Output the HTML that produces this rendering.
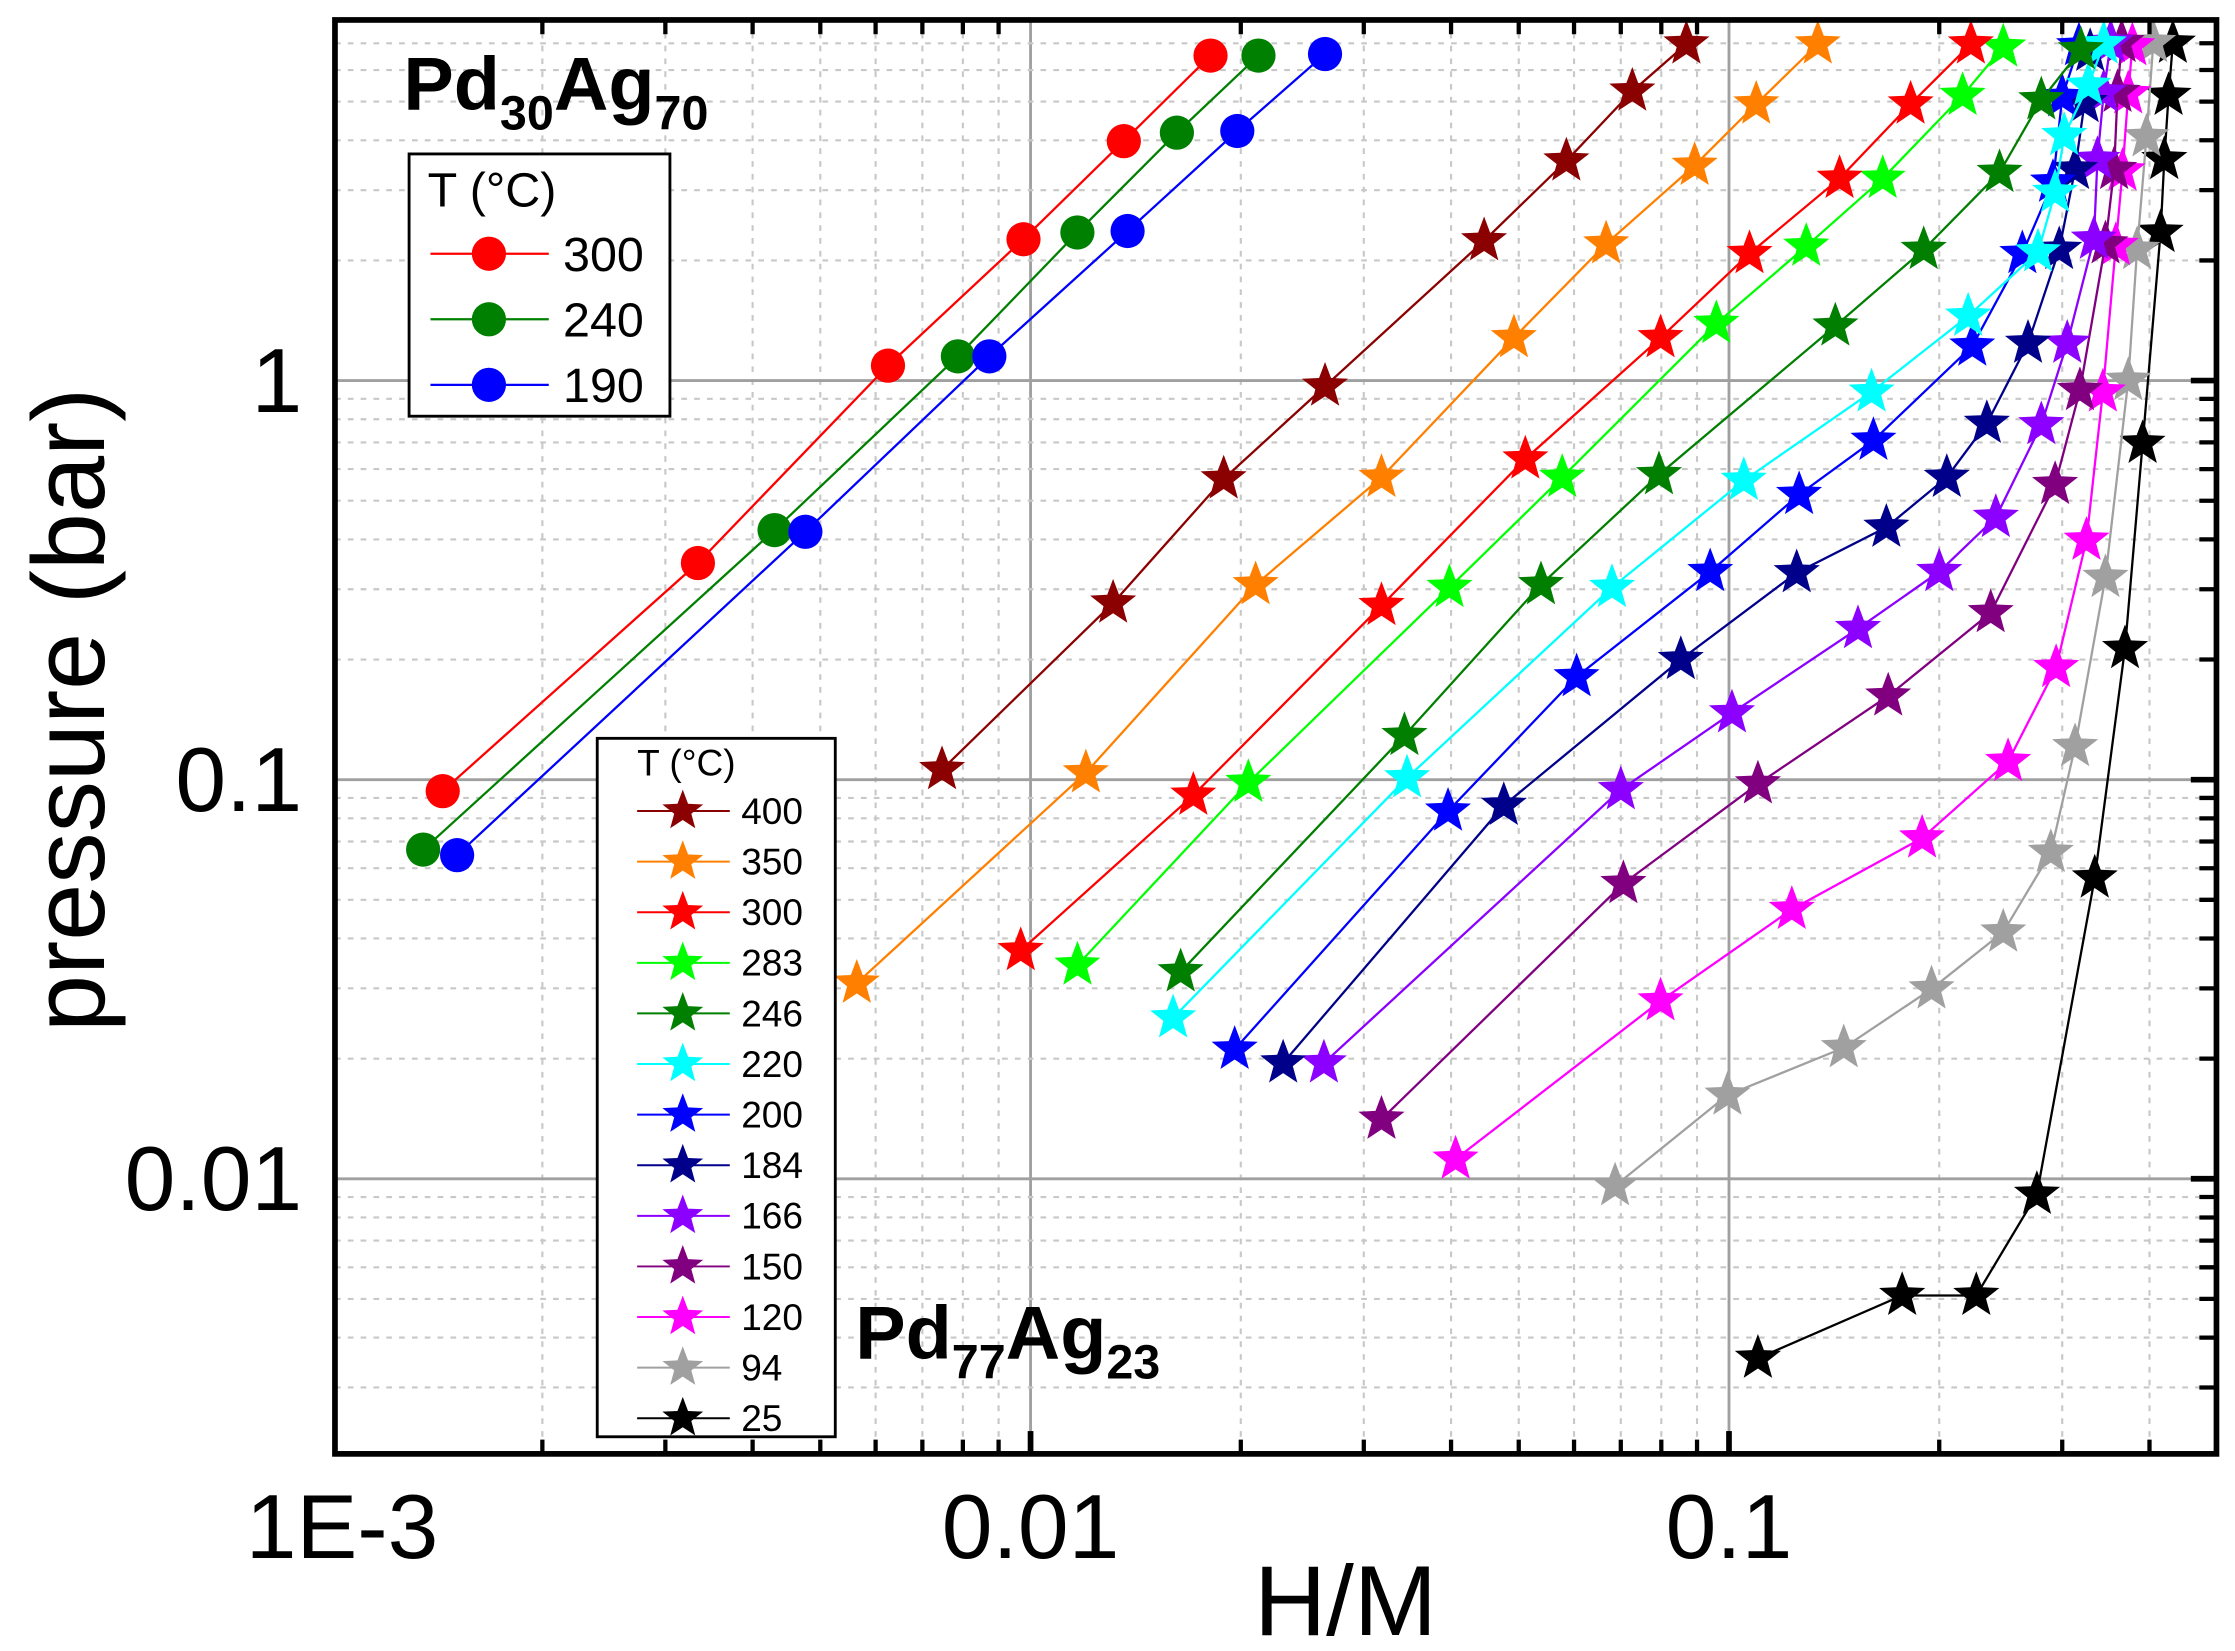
<!DOCTYPE html>
<html><head><meta charset="utf-8"><style>
html,body{margin:0;padding:0;background:#fff;}
svg{display:block;font-family:"Liberation Sans",sans-serif;}
</style></head><body>
<svg id="chart" width="2235" height="1651" viewBox="0 0 1568 1158.3" preserveAspectRatio="none" xmlns="http://www.w3.org/2000/svg">
<rect x="0" y="0" width="1568" height="1159" fill="#fff"/>
<g id="grid"></g>
<g id="series"></g>
<rect x="235" y="14" width="1320" height="1006" fill="none" stroke="#000" stroke-width="4"/>
<g id="ticks"></g>
<text x="0" y="0" transform="translate(73,498) rotate(-90)" text-anchor="middle" font-size="72">pressure (bar)</text>
<text x="944" y="1147" text-anchor="middle" font-size="70">H/M</text>
<text x="283" y="77" font-size="53" font-weight="bold">Pd<tspan font-size="34" dy="14">30</tspan><tspan dy="-14">Ag</tspan><tspan font-size="34" dy="14">70</tspan></text>
<text x="600" y="953" font-size="53" font-weight="bold">Pd<tspan font-size="34" dy="14">77</tspan><tspan dy="-14">Ag</tspan><tspan font-size="34" dy="14">23</tspan></text>
<g id="legend1">
<rect x="287" y="108" width="183" height="184" fill="#fff" stroke="#000" stroke-width="2"/>
<text x="300" y="145" font-size="34">T (°C)</text>
</g>
<g id="legend2">
<rect x="419" y="518" width="167" height="490" fill="#fff" stroke="#000" stroke-width="2"/>
<text x="447" y="544" font-size="26">T (°C)</text>
</g>
</svg>
<script>
// ---- data ----
const circleTemps = ["300","240","190"];
const circleColors = ["#FF0000","#008000","#0000FF"];
const hmC300 = [0.00144,0.00334,0.00625,0.00977,0.0136,0.0181];
const pC300 = [0.0936,0.349,1.09,2.26,3.98,6.52];
const hmC240 = [0.00135,0.0043,0.00787,0.01167,0.0162,0.0212];
const pC240 = [0.0668,0.422,1.15,2.35,4.18,6.52];
const hmC190 = [0.00151,0.00476,0.00873,0.01377,0.01977,0.0264];
const pC190 = [0.0647,0.418,1.15,2.37,4.22,6.58];

const starTemps = ["400","350","300","283","246","220","200","184","166","150","120","94","25"];
const starColors = ["#8B0000","#FF8000","#FF0000","#00FF00","#007F00","#00FFFF","#0000FF","#00008B","#8B00FF","#800080","#FF00FF","#A0A0A0","#000000"];
const hm400 = [0.00747,0.01313,0.0189,0.0264,0.0446,0.0585,0.0727,0.0869];
const p400 = [0.106,0.277,0.567,0.968,2.24,3.55,5.31,6.97];
const hm350 = [0.00564,0.012,0.021,0.0318,0.0492,0.0667,0.0893,0.1094,0.134];
const p350 = [0.0309,0.104,0.308,0.572,1.28,2.2,3.46,4.93,6.97];
const hm300 = [0.00968,0.0171,0.0318,0.0511,0.0798,0.107,0.144,0.182,0.222];
const p300 = [0.0373,0.0914,0.273,0.636,1.28,2.08,3.21,4.93,6.97];
const hm283 = [0.01167,0.0205,0.0398,0.0577,0.0959,0.129,0.166,0.216,0.247];
const p283 = [0.0343,0.0984,0.303,0.572,1.39,2.17,3.21,5.18,6.85];
const hm246 = [0.0164,0.0343,0.0538,0.0794,0.142,0.19,0.244,0.28,0.319];
const p246 = [0.033,0.129,0.308,0.581,1.37,2.13,3.32,5.05,6.74];
const hm220 = [0.016,0.0346,0.068,0.105,0.16,0.22,0.277,0.293,0.302,0.327,0.344];
const p220 = [0.0253,0.101,0.303,0.562,0.936,1.45,2.1,2.96,4.11,5.49,6.97];
const hm200 = [0.0196,0.0396,0.0605,0.094,0.126,0.161,0.223,0.263,0.291,0.3,0.317];
const p200 = [0.0211,0.0834,0.181,0.332,0.518,0.708,1.22,2.08,3.14,5.14,6.9];
const hm184 = [0.023,0.0476,0.0853,0.125,0.168,0.205,0.234,0.268,0.297,0.313,0.323,0.329];
const p184 = [0.0195,0.0862,0.2,0.33,0.429,0.572,0.781,1.24,2.13,3.38,4.97,6.68];
const hm166 = [0.0263,0.07,0.101,0.153,0.2,0.241,0.28,0.305,0.333,0.337,0.344,0.352];
const p166 = [0.0195,0.0944,0.147,0.239,0.332,0.454,0.775,1.24,2.26,3.58,5.27,7.03];
const hm150 = [0.0318,0.0706,0.11,0.169,0.237,0.293,0.318,0.346,0.356,0.36,0.365];
const p150 = [0.0141,0.0549,0.0976,0.162,0.262,0.549,0.944,2.2,3.38,5.27,7.03];
const hm120 = [0.0406,0.0798,0.123,0.189,0.251,0.294,0.325,0.343,0.358,0.366,0.373,0.378];
const p120 = [0.0112,0.0279,0.0473,0.0714,0.111,0.191,0.398,0.936,2.18,3.35,5.23,6.9];
const hm94 = [0.0687,0.0995,0.146,0.195,0.247,0.289,0.313,0.346,0.373,0.384,0.396,0.405];
const p94 = [0.0096,0.0162,0.0213,0.0299,0.0415,0.0657,0.121,0.321,1.0,2.13,4.08,7.03];
const hm25 = [0.11,0.177,0.226,0.276,0.334,0.369,0.391,0.415,0.42,0.426,0.432];
const p25 = [0.00355,0.0051,0.0051,0.00914,0.0567,0.213,0.696,2.35,3.58,5.18,7.0];

const xTickLabels = ["1E-3","0.01","0.1"];
const xTickValues = [0.001,0.01,0.1];
const yTickLabels = ["1","0.1","0.01"];
const yTickValues = [1,0.1,0.01];

// ---- axes ----
const X0=233, XD=490, Y0=267, YD=280;
function sx(v){return X0+(Math.log10(v)+3)*XD;}
function sy(v){return Y0-Math.log10(v)*YD;}
const NS="http://www.w3.org/2000/svg";
function mk(tag,attrs,parent){const e=document.createElementNS(NS,tag);for(const k in attrs)e.setAttribute(k,attrs[k]);parent.appendChild(e);return e;}
function starPts(cx,cy,R){const r=R*0.42;let s=[];for(let i=0;i<10;i++){const a=-Math.PI/2+i*Math.PI/5;const rr=i%2?r:R;s.push((cx+rr*Math.cos(a)).toFixed(1)+","+(cy+rr*Math.sin(a)).toFixed(1));}return s.join(" ");}

const grid=document.getElementById('grid');
const ticks=document.getElementById('ticks');
for(let d=-3;d<=-1;d++){for(let m=1;m<=9;m++){const v=m*Math.pow(10,d);const x=sx(v);if(x<236||x>1554)continue;
  if(m===1){const l=mk('line',{x1:x,y1:14,x2:x,y2:1020,stroke:'#A0A0A0','stroke-width':2},grid);
    const t=mk('line',{x1:x,y1:1020,x2:x,y2:1004,stroke:'#000','stroke-width':4},ticks);}
  else{const l=mk('line',{x1:x,y1:14,x2:x,y2:1020,stroke:'#C8C8C8','stroke-width':1.5,'stroke-dasharray':'4 5'},grid);
    const t=mk('line',{x1:x,y1:1020,x2:x,y2:1010,stroke:'#000','stroke-width':3},ticks);
    const t2=mk('line',{x1:x,y1:14,x2:x,y2:24,stroke:'#000','stroke-width':3},ticks);}
}}
for(let d=-3;d<=0;d++){for(let m=1;m<=9;m++){const v=m*Math.pow(10,d);const y=sy(v);if(y<15||y>1019)continue;
  if(m===1){const l=mk('line',{x1:235,y1:y,x2:1555,y2:y,stroke:'#A0A0A0','stroke-width':2},grid);
    const t=mk('line',{x1:1555,y1:y,x2:1537,y2:y,stroke:'#000','stroke-width':4},ticks);}
  else{const l=mk('line',{x1:235,y1:y,x2:1555,y2:y,stroke:'#C8C8C8','stroke-width':1.5,'stroke-dasharray':'4 5'},grid);
    const t=mk('line',{x1:1555,y1:y,x2:1543,y2:y,stroke:'#000','stroke-width':3},ticks);}
}}
const svg=document.getElementById('chart');
xTickLabels.forEach((s,i)=>{const t=mk('text',{x:sx(xTickValues[i])+(i===0?7:0),y:1093,'text-anchor':'middle','font-size':64},svg);t.textContent=s;
  
  });
yTickLabels.forEach((s,i)=>{const t=mk('text',{x:212,y:sy(yTickValues[i])+22,'text-anchor':'end','font-size':64},svg);t.textContent=s;
  
  });

// ---- series ----
const layer=document.getElementById('series');
const circleHM=[hmC300,hmC240,hmC190], circleP=[pC300,pC240,pC190];
const starHM=[hm400,hm350,hm300,hm283,hm246,hm220,hm200,hm184,hm166,hm150,hm120,hm94,hm25];
const starP=[p400,p350,p300,p283,p246,p220,p200,p184,p166,p150,p120,p94,p25];
function drawSeries(xs,ys,color,kind,name){
  const g=mk('g',{},layer);
  
  
  const pts=xs.map((v,i)=>sx(v).toFixed(1)+","+sy(ys[i]).toFixed(1)).join(" ");
  const pl=mk('polyline',{points:pts,fill:'none',stroke:color,'stroke-width':1.6},g);
  
  
  xs.forEach((v,i)=>{let m;
    if(kind==='c'){m=mk('circle',{cx:sx(v),cy:sy(ys[i]),r:12,fill:color},g);}
    else{m=mk('polygon',{points:starPts(sx(v),sy(ys[i]),17),fill:color},g);}
    
    });
}
for(let i=starTemps.length-1;i>=0;i--)drawSeries(starHM[i],starP[i],starColors[i],'s','series-'+starTemps[i]+'c');
circleTemps.forEach((t,i)=>drawSeries(circleHM[i],circleP[i],circleColors[i],'c','series-pd30-'+t+'c'));

// ---- legends ----
const lg1=document.getElementById('legend1');
circleTemps.forEach((t,i)=>{const y=178+46*i;
  const e=mk('g',{},lg1);
  
  
  mk('line',{x1:302,y1:y,x2:385,y2:y,stroke:circleColors[i],'stroke-width':1.6},e);
  mk('circle',{cx:343,cy:y,r:12,fill:circleColors[i]},e);
  const tx=mk('text',{x:395,y:y+12,'font-size':34},e);tx.textContent=t;});
const lg2=document.getElementById('legend2');
starTemps.forEach((t,i)=>{const y=569+35.5*i;
  const e=mk('g',{},lg2);
  
  
  mk('line',{x1:447,y1:y,x2:512,y2:y,stroke:starColors[i],'stroke-width':1.4},e);
  mk('polygon',{points:starPts(479,y,15),fill:starColors[i]},e);
  const tx=mk('text',{x:520,y:y+9,'font-size':26},e);tx.textContent=t;});
</script>
</body></html>
